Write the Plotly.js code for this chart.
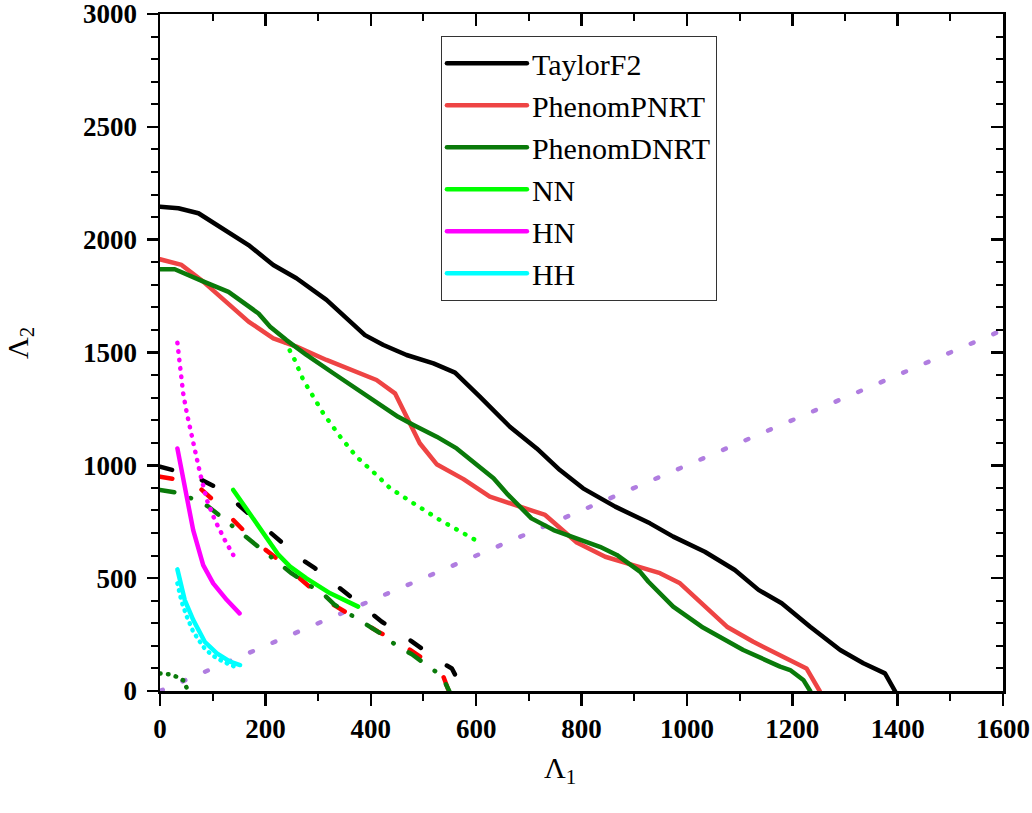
<!DOCTYPE html>
<html>
<head>
<meta charset="utf-8">
<script src="https://cdn.plot.ly/plotly-3.0.1.min.js"></script>
<style>
  html, body { margin: 0; padding: 0; background: #fff; }
  #chart { width: 1032px; height: 813px; }
  .scatterlayer .js-line, .legend .js-line { stroke-linecap: round; stroke-linejoin: round; }
</style>
</head>
<body>
<div id="chart"></div>
<script>
// ---- data ----
const taylorX = [0,35,73,120,168,215,259,316,354,389,424,468,519,560,607,664,715,759,803,864,930,974,1034,1091,1136,1180,1234,1291,1335,1376,1395];
const taylorY = [2146,2139,2117,2050,1976,1888,1829,1733,1652,1577,1533,1489,1452,1411,1304,1171,1075,979,898,817,743,684,617,536,448,389,285,182,123,78,0];

const pnrtX = [0,41,82,127,168,215,259,316,367,411,446,471,493,525,576,626,683,731,791,845,898,949,987,1028,1076,1126,1177,1227,1252];
const pnrtY = [1913,1888,1814,1718,1637,1563,1526,1467,1422,1378,1319,1201,1098,1005,939,861,817,780,658,595,558,522,477,389,285,218,160,100,0];

const dnrtX = [0,28,76,130,187,209,240,278,329,386,411,452,481,525,563,601,633,658,705,747,791,835,867,911,927,974,1028,1107,1177,1196,1221,1234];
const dnrtY = [1869,1869,1821,1769,1673,1614,1555,1489,1408,1319,1275,1215,1179,1127,1075,1001,943,876,765,713,677,639,603,529,484,374,285,182,108,93,49,0];

const nnX = [139,171,196,225,247,278,323,376];
const nnY = [891,787,699,603,551,499,433,374];
const nnDotX = [237,253,272,291,310,342,373,411,437,481,531,604];
const nnDotY = [1548,1481,1378,1304,1230,1127,1038,957,898,832,758,662];

const hnX = [33,41,51,63,82,101,127,151];
const hnY = [1075,979,861,713,558,477,403,344];
const hnDotX = [33,38,44,51,60,70,76,89,104,123,139];
const hnDotY = [1543,1437,1319,1230,1127,1024,965,846,758,669,603];

const hhX = [33,38,47,63,85,108,133,152];
const hhY = [539,492,403,315,218,167,130,115];
const hhDotX = [33,41,51,63,82,98,120,142];
const hhDotY = [477,396,329,263,196,160,130,108];

const taylorDashX = [0,35,79,111,142,171,203,231,266,294,329,357,392,421,456,487,535,554,576];
const taylorDashY = [994,972,935,898,839,780,713,662,588,544,478,425,359,307,256,204,125,100,0];
const pnrtDashX = [0,38,76,101,133,158,193,221,265,313,335,383,414,452,481,512,538,548];
const pnrtDashY = [950,935,898,846,772,713,639,588,500,403,374,307,263,218,174,123,63,0];
const dnrtDashX = [0,41,63,92,123,146,168,203,225,250,288,310,332,367,392,418,452,478,500,535,549];
const dnrtDashY = [891,876,849,817,758,716,673,610,566,521,462,430,381,329,292,256,196,163,125,66,0];
const dnrtDotX = [0,17,32,45,53];
const dnrtDotY = [78,74,63,46,0];

const diagX = [0,1600];
const diagY = [0,1600];

const legendNames = ['TaylorF2','PhenomPNRT','PhenomDNRT','NN','HN','HH'];
const xTitle = 'Λ<sub>1</sub>';
const yTitle = 'Λ<sub>2</sub>';

// ---- styles ----
const W = 4.5;
const cBlack = '#000000', cRed = '#ee4444', cRedD = '#ff0000', cGreen = '#0a7a0a',
      cLime = '#00ff00', cMag = '#ff00ff', cCyan = '#00ffff', cPurple = '#b07de0';

function tr(x, y, color, dash, name, width) {
  return {
    x: x, y: y, type: 'scatter', mode: 'lines',
    line: {color: color, width: width || W, dash: dash || 'solid'},
    name: name || '', showlegend: !!name, hoverinfo: 'skip'
  };
}

const traces = [
  tr(diagX, diagY, cPurple, '3px,21.5px', null, 4.5),
  tr(taylorDashX, taylorDashY, cBlack, '12.5px,31.5px'),
  tr(pnrtDashX, pnrtDashY, cRedD, '12.5px,31.5px'),
  tr(dnrtDashX, dnrtDashY, cGreen, '14.5px,17.5px,0.5px,17.5px'),
  tr(dnrtDotX, dnrtDotY, cGreen, '0.5px,7.5px'),
  tr(nnDotX, nnDotY, cLime, '0.5px,9.5px'),
  tr(hnDotX, hnDotY, cMag, '0.5px,8px'),
  tr(hhDotX, hhDotY, cCyan, '0.5px,6.5px'),
  tr(taylorX, taylorY, cBlack, 'solid', legendNames[0]),
  tr(pnrtX, pnrtY, cRed, 'solid', legendNames[1]),
  tr(dnrtX, dnrtY, cGreen, 'solid', legendNames[2]),
  tr(nnX, nnY, cLime, 'solid', legendNames[3]),
  tr(hnX, hnY, cMag, 'solid', legendNames[4]),
  tr(hhX, hhY, cCyan, 'solid', legendNames[5]),
  {x: [null], y: [null], xaxis: 'x2', yaxis: 'y2', type: 'scatter', mode: 'lines', showlegend: false, hoverinfo: 'skip'}
];

const tickFont = {family: 'Liberation Serif', size: 27, color: '#000', weight: 'bold'};
const titleFont = {family: 'Liberation Serif', size: 30, color: '#000'};
const axisCommon = {
  showgrid: false, zeroline: false, showline: true, linecolor: '#000', linewidth: 2.5,
  tickcolor: '#000', tickwidth: 2.5, ticklen: 12, tickfont: tickFont, fixedrange: true,
  ticklabeloverflow: 'allow'
};

const layout = {
  width: 1032, height: 813,
  margin: {l: 160, r: 29, t: 14, b: 122, pad: 0},
  paper_bgcolor: '#fff', plot_bgcolor: '#fff',
  showlegend: true,
  legend: {
    x: 0.333, y: 0.9675, xanchor: 'left', yanchor: 'top',
    bordercolor: '#333', borderwidth: 1.2, bgcolor: 'rgba(255,255,255,0)',
    font: {family: 'Liberation Serif', size: 30, color: '#000'},
    itemwidth: 80, tracegroupgap: 0
  },
  xaxis: Object.assign({}, axisCommon, {
    range: [0, 1600], tick0: 0, dtick: 200, ticks: 'outside',
    minor: {dtick: 100, ticks: 'outside', ticklen: 7, tickwidth: 2, tickcolor: '#000'}
  }),
  yaxis: Object.assign({}, axisCommon, {
    range: [0, 3000], tick0: 0, dtick: 500, ticks: 'outside', ticklen: 11,
    ticklabelstandoff: 4,
    minor: {dtick: 100, ticks: 'outside', ticklen: 7, tickwidth: 2, tickcolor: '#000'}
  }),
  xaxis2: Object.assign({}, axisCommon, {
    overlaying: 'x', side: 'top', anchor: 'y2', range: [0, 1600], tick0: 0, dtick: 200,
    ticks: 'inside', showticklabels: false,
    minor: {dtick: 100, ticks: 'inside', ticklen: 7, tickwidth: 2, tickcolor: '#000'}
  }),
  yaxis2: Object.assign({}, axisCommon, {
    overlaying: 'y', side: 'right', anchor: 'x2', range: [0, 3000], tick0: 0, dtick: 500,
    ticks: 'inside', showticklabels: false,
    minor: {dtick: 100, ticks: 'inside', ticklen: 7, tickwidth: 2, tickcolor: '#000'}
  }),
  annotations: [
    {text: xTitle, xref: 'paper', yref: 'paper', x: (560 - 160) / 843, y: (691 - 770) / 677,
     xanchor: 'center', yanchor: 'middle', showarrow: false, font: titleFont},
    {text: yTitle, xref: 'paper', yref: 'paper', x: (20 - 160) / 843, y: (691 - 343) / 677,
     xanchor: 'center', yanchor: 'middle', showarrow: false, font: titleFont, textangle: -90}
  ]
};

Plotly.newPlot('chart', traces, layout, {displayModeBar: false, staticPlot: true});
</script>
</body>
</html>
